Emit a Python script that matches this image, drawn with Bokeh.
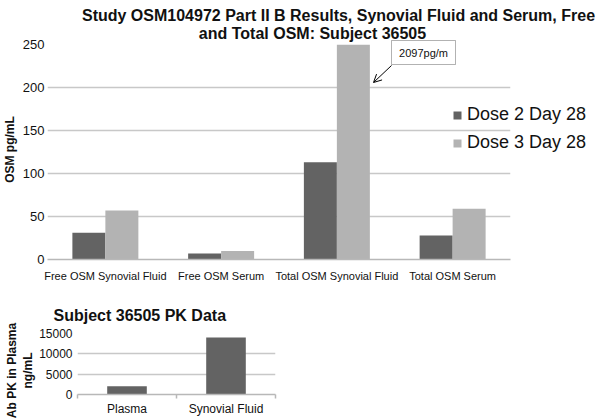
import math
from bokeh.plotting import figure
from bokeh.models import (FactorRange, Range1d, FixedTicker, Label, Arrow, OpenHead,
                          Legend, LegendItem, ColumnDataSource, BoxAnnotation)
from bokeh.transform import dodge
from bokeh.embed import file_html
from bokeh.resources import INLINE

# ---------------- data ----------------
categories = ["Free OSM Synovial Fluid", "Free OSM Serum",
              "Total OSM Synovial Fluid", "Total OSM Serum"]
dose2_day28 = [31, 7, 113, 28]
dose3_day28 = [57, 10, 2097, 59]
series_names = ["Dose 2 Day 28", "Dose 3 Day 28"]
osm_ticks = [0, 50, 100, 150, 200, 250]
callout_text = "2097pg/m"
title_lines = ["Study OSM104972 Part II B Results, Synovial Fluid and Serum, Free",
               "and Total OSM: Subject 36505"]
y_title_top = "OSM pg/mL"

pk_categories = ["Plasma", "Synovial Fluid"]
pk_values = [2000, 14000]
pk_ticks = [0, 5000, 10000, 15000]
pk_title = "Subject 36505 PK Data"
pk_y_title = ["Ab PK in Plasma", "ng/mL"]

# ---------------- style ----------------
FONT = "Liberation Sans"
DARK = "#636363"
LIGHT = "#b3b3b3"
GRID = "#c8c8c8"
AXIS = "#b8b8b8"
TXT = "#111111"
PAGE_W, PAGE_H = 600, 418


def place(top):
    return {"position": "absolute", "left": "0px", "top": f"{top}px"}


# ---------------- top chart ----------------
W1, H1 = 600, 290
FL, FR, FT, FB = 47, 510, 44, 259          # frame box in page px
p = figure(width=W1, height=H1, title=None,
           x_range=FactorRange(factors=categories, range_padding=0),
           y_range=Range1d(0, osm_ticks[-1]),
           output_backend="svg", toolbar_location=None,
           min_border_left=FL, min_border_right=W1 - FR,
           min_border_top=FT, min_border_bottom=H1 - FB,
           styles=place(0))
p.outline_line_color = None
p.xgrid.visible = False
p.ygrid.grid_line_color = GRID
p.ygrid.grid_line_width = 1.5

src = ColumnDataSource(dict(cat=categories, d2=dose2_day28, d3=dose3_day28))
bw = 0.285
r2 = p.vbar(x=dodge("cat", -bw / 2, range=p.x_range), top="d2", width=bw,
            source=src, fill_color=DARK, line_color=None)
r3 = p.vbar(x=dodge("cat", bw / 2, range=p.x_range), top="d3", width=bw,
            source=src, fill_color=LIGHT, line_color=None)

p.yaxis.ticker = FixedTicker(ticks=osm_ticks)
p.yaxis.axis_line_color = None
p.yaxis.major_tick_line_color = None
p.yaxis.major_tick_out = 0
p.yaxis.major_tick_in = 0
p.yaxis.minor_tick_line_color = None
p.yaxis.major_label_text_font = FONT
p.yaxis.major_label_text_font_size = "13px"
p.yaxis.major_label_text_color = TXT
p.yaxis.major_label_standoff = 3

p.xaxis.axis_line_color = AXIS
p.xaxis.axis_line_width = 1.5
p.xaxis.major_tick_line_color = None
p.xaxis.major_tick_out = 0
p.xaxis.major_tick_in = 0
p.xaxis.minor_tick_line_color = None
p.xaxis.major_label_text_font = FONT
p.xaxis.major_label_text_font_size = "11px"
p.xaxis.major_label_text_color = TXT
p.xaxis.major_label_standoff = 10

# ---------------- bottom chart ----------------
W2, H2 = 300, 128
TOP2 = H1
GL, GR, GT, GB = 77, 275, 333, 395          # frame box in page px
q = figure(width=W2, height=H2, title=None,
           x_range=Range1d(0, len(pk_categories)), y_range=Range1d(0, pk_ticks[-1]),
           output_backend="svg", toolbar_location=None,
           min_border_left=GL, min_border_right=W2 - GR,
           min_border_top=GT - TOP2, min_border_bottom=TOP2 + H2 - GB,
           styles=place(TOP2))
q.outline_line_color = None
q.xgrid.visible = False
q.ygrid.grid_line_color = GRID
q.ygrid.grid_line_width = 1.5

pk_pos = [i + 0.5 for i in range(len(pk_categories))]
q.vbar(x=pk_pos, top=pk_values, width=0.4, fill_color=DARK, line_color=None)

q.yaxis.ticker = FixedTicker(ticks=pk_ticks)
q.yaxis.axis_line_color = None
q.yaxis.major_tick_line_color = None
q.yaxis.major_tick_out = 0
q.yaxis.major_tick_in = 0
q.yaxis.minor_tick_line_color = None
q.yaxis.major_label_text_font = FONT
q.yaxis.major_label_text_font_size = "12px"
q.yaxis.major_label_text_color = TXT
q.yaxis.major_label_standoff = 5

q.xaxis.ticker = FixedTicker(ticks=pk_pos, minor_ticks=list(range(len(pk_categories) + 1)))
q.xaxis.major_label_overrides = {pos: name for pos, name in zip(pk_pos, pk_categories)}
q.xaxis.axis_line_color = AXIS
q.xaxis.axis_line_width = 1.5
q.xaxis.major_tick_line_color = None
q.xaxis.major_tick_out = 0
q.xaxis.major_tick_in = 0
q.xaxis.minor_tick_line_color = AXIS
q.xaxis.minor_tick_line_width = 1.5
q.xaxis.minor_tick_in = 0
q.xaxis.minor_tick_out = 4
q.xaxis.major_label_text_font = FONT
q.xaxis.major_label_text_font_size = "12px"
q.xaxis.major_label_text_color = TXT
q.xaxis.major_label_standoff = 3

# ---------------- overlay (titles, legend, call-out) in page pixels ----------------
ov = figure(width=PAGE_W, height=PAGE_H, title=None,
            x_range=Range1d(0, PAGE_W), y_range=Range1d(PAGE_H, 0),
            x_axis_type=None, y_axis_type=None,
            output_backend="svg", toolbar_location=None,
            min_border=0, styles=place(0))
ov.grid.visible = False
ov.outline_line_color = None
ov.background_fill_alpha = 0
ov.border_fill_alpha = 0


def text(x, y, s, size, bold=False, align="left", baseline="alphabetic", angle=0.0):
    ov.add_layout(Label(x=x, y=y, text=s, text_align=align, text_baseline=baseline,
                        angle=angle, text_font=FONT, text_font_size=size,
                        text_font_style="bold" if bold else "normal", text_color=TXT))


text(338, 15, title_lines[0], "16px", bold=True, align="center")
text(312, 33, title_lines[1], "16px", bold=True, align="center")
text(9, 149, y_title_top, "12px", bold=True, align="center", baseline="middle",
     angle=math.pi / 2)
text(53, 315, pk_title, "16px", bold=True)
text(11, 370, pk_y_title[0], "12px", bold=True, align="center", baseline="middle",
     angle=math.pi / 2)
text(27.5, 370, pk_y_title[1], "12px", bold=True, align="center", baseline="middle",
     angle=math.pi / 2)

# call-out for the clipped bar
ov.add_layout(BoxAnnotation(left=391, right=455, top=40, bottom=64,
                            fill_color="white", fill_alpha=1,
                            line_color="black", line_width=1))
text(423, 52.5, callout_text, "11px", align="center", baseline="middle")
ov.add_layout(Arrow(x_start=391, y_start=65, x_end=373, y_end=82,
                    line_color="black", line_width=1,
                    end=OpenHead(size=8, line_color="black", line_width=1)))

# legend swatches: zero-height bars styled like the two series (nothing visible on canvas)
sw = ColumnDataSource(dict(x=[0], top=[0]))
sw2 = ov.vbar(x="x", top="top", width=0, source=sw, fill_color=DARK, line_color=None)
sw3 = ov.vbar(x="x", top="top", width=0, source=sw, fill_color=LIGHT, line_color=None)
legend = Legend(items=[LegendItem(label=series_names[0], renderers=[sw2], index=0),
                       LegendItem(label=series_names[1], renderers=[sw3], index=0)],
                location=(452, PAGE_H - 153), glyph_width=10, glyph_height=10,
                label_text_font=FONT, label_text_font_size="18px",
                label_text_color=TXT, label_standoff=5, spacing=7,
                padding=0, margin=0, border_line_color=None,
                background_fill_alpha=0)
ov.add_layout(legend)

open("out.html", "w").write(file_html([p, q, ov], INLINE))
